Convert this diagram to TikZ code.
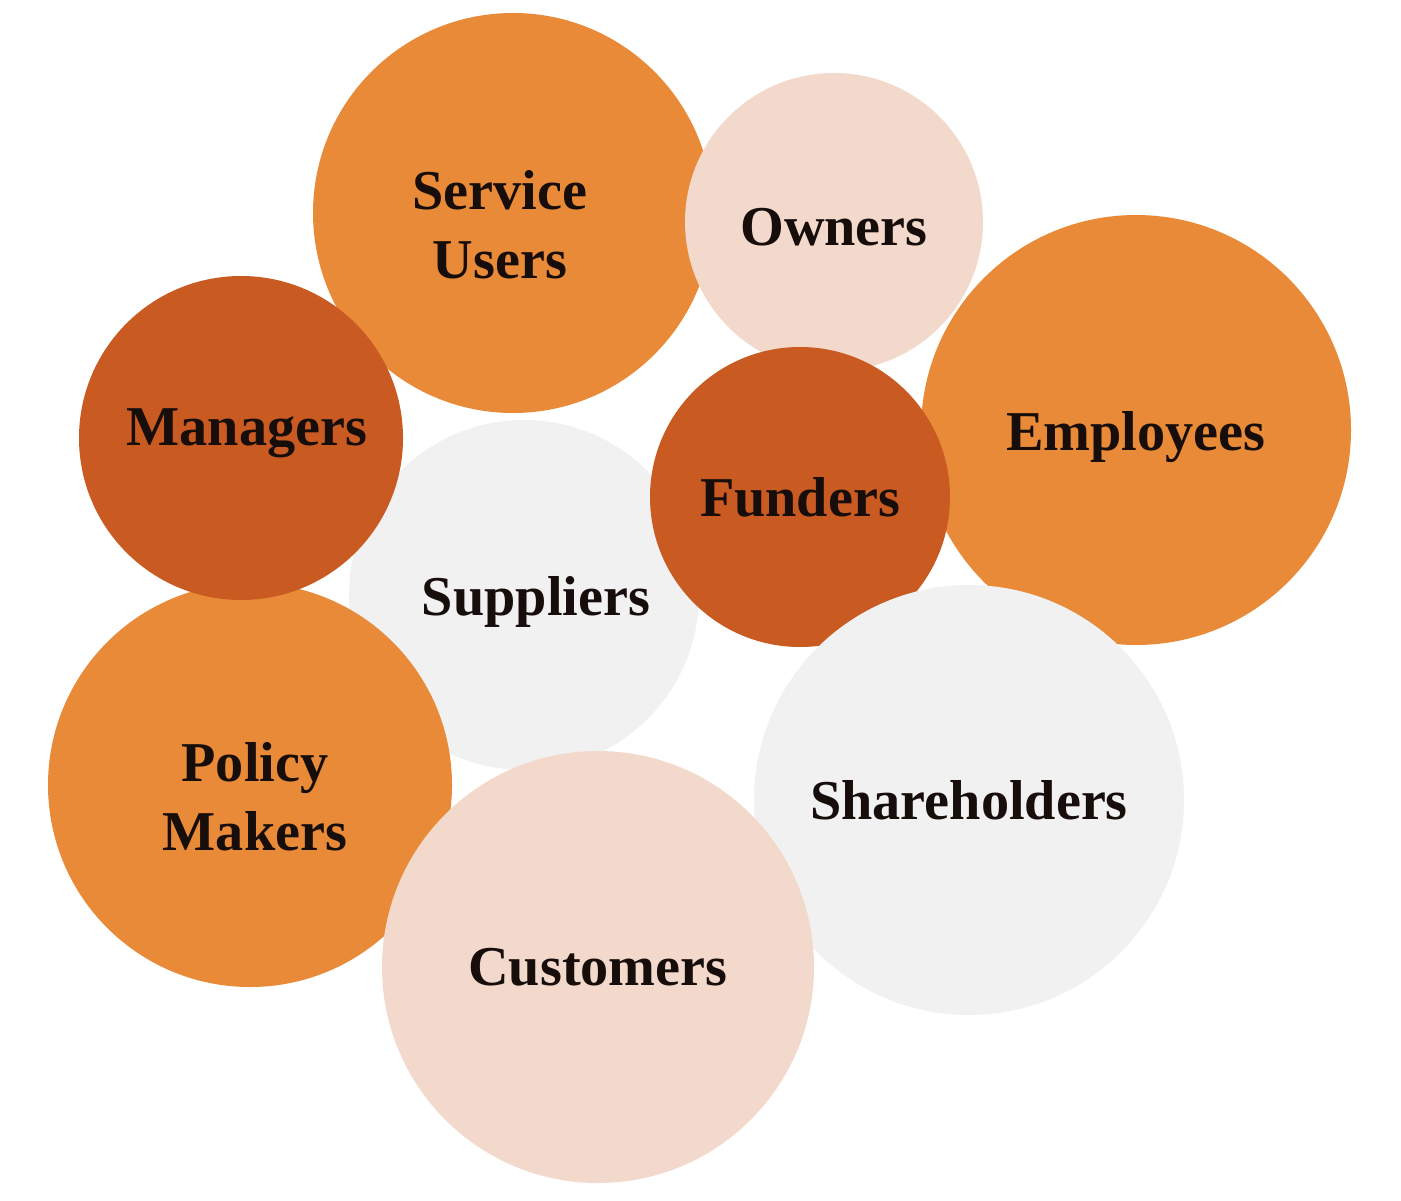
\documentclass[tikz,border=0pt]{standalone}
\usepackage{fontspec}
\setmainfont{Liberation Serif}
\usetikzlibrary{positioning}
\definecolor{orangemid}{HTML}{E98A38}
\definecolor{orangedark}{HTML}{C95B22}
\definecolor{peach}{HTML}{F2D9CB}
\definecolor{palegray}{HTML}{F1F1F1}
\definecolor{ink}{HTML}{170E0C}
\begin{document}
\begin{tikzpicture}[
  blob/.style={circle, inner sep=0pt, align=center, text=ink,
    font=\fontsize{16}{19.5}\selectfont\bfseries},
  twoline/.style={text height=37pt, text depth=0pt},
]
  \useasboundingbox (0,0) rectangle (14.01,12);
  \node[blob, fill=palegray, minimum size=3.50cm, text height=14.9pt, text depth=3.5pt] (suppliers) at (5.24,6.05) {\hspace{0.24cm}Suppliers};
  \node[blob, twoline, fill=orangemid, minimum size=4.00cm] (service) at (5.13,9.87) {\hspace*{-0.26cm}Service\\\hspace*{-0.26cm}Users};
  \node[blob, fill=peach, minimum size=2.98cm, text height=13.8pt, text depth=0.2pt] (owners) at (8.34,9.78) {Owners};
  \node[blob, twoline, fill=orangemid, minimum size=4.04cm] (policy) at (2.50,4.15) {\hspace{0.1cm}Policy\\\hspace{0.1cm}Makers};
  \node[blob, fill=orangedark, minimum size=3.24cm, text height=10.6pt, text depth=6.3pt] (managers) at (2.41,7.62) {\hspace{0.12cm}Managers};
  \node[blob, fill=orangemid, minimum size=4.30cm, text height=14.9pt, text depth=3.5pt] (employees) at (11.36,7.70) {Employees};
  \node[blob, fill=orangedark, minimum size=3.00cm] (funders) at (8.00,7.03) {Funders};
  \node[blob, fill=palegray, minimum size=4.30cm] (shareholders) at (9.69,4.00) {Shareholders};
  \node[blob, fill=peach, minimum size=4.32cm] (customers) at (5.98,2.33) {Customers};
\end{tikzpicture}
\end{document}
